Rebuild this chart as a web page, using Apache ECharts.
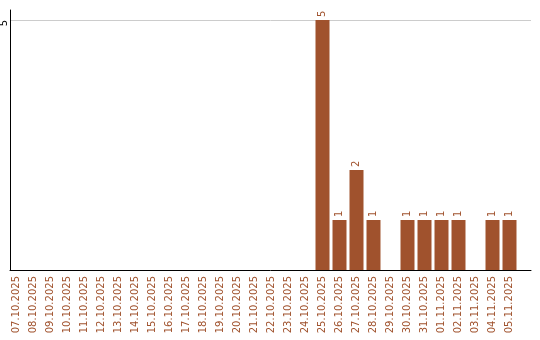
<!DOCTYPE html>
<html>
<head>
<meta charset="utf-8">
<script src="https://cdn.jsdelivr.net/npm/echarts@6/dist/echarts.min.js"></script>
<style>html,body{margin:0;padding:0;background:#fff}#c{width:540px;height:340px}</style>
</head>
<body>
<div id="c"></div>
<script>
var categories = ['07.10.2025','08.10.2025','09.10.2025','10.10.2025','11.10.2025','12.10.2025','13.10.2025','14.10.2025','15.10.2025','16.10.2025','17.10.2025','18.10.2025','19.10.2025','20.10.2025','21.10.2025','22.10.2025','23.10.2025','24.10.2025','25.10.2025','26.10.2025','27.10.2025','28.10.2025','29.10.2025','30.10.2025','31.10.2025','01.11.2025','02.11.2025','03.11.2025','04.11.2025','05.11.2025'];
var values = [0,0,0,0,0,0,0,0,0,0,0,0,0,0,0,0,0,0,5,1,2,1,0,1,1,1,1,0,1,1];
var yTicks = [5];

var FONT = 'DejaVu Sans';
var BROWN = '#a0522d';
var chart = echarts.init(document.getElementById('c'));
chart.setOption({
  animation: false,
  backgroundColor: '#fff',
  grid: [
    {left: 8, width: 510, top: 10, height: 260, containLabel: false, outerBoundsMode: 'none'},
    {left: 10, right: 9, top: 10, height: 260, containLabel: false, outerBoundsMode: 'none'}
  ],
  xAxis: [
    {
      type: 'category', gridIndex: 0, data: categories,
      axisLine: {show: false}, axisTick: {show: false},
      axisLabel: {interval: 0, rotate: 90, margin: 6, color: BROWN, fontSize: 10, fontFamily: FONT}
    },
    {
      type: 'value', gridIndex: 1, min: 0, max: 1,
      axisLine: {show: true, lineStyle: {color: '#000', width: 1}},
      axisTick: {show: false}, axisLabel: {show: false}, splitLine: {show: false}
    }
  ],
  yAxis: [
    {type: 'value', gridIndex: 0, min: 0, max: 5.2, show: false, splitLine: {show: false}},
    {
      type: 'value', gridIndex: 1, min: 0, max: 5.2, interval: 5,
      axisLine: {show: true, lineStyle: {color: '#000', width: 1}},
      axisTick: {show: false},
      axisLabel: {
        show: true, rotate: 90, margin: 5.5, align: 'right', verticalAlign: 'middle',
        color: '#000', fontSize: 10, fontFamily: FONT,
        showMinLabel: false, showMaxLabel: false,
        formatter: function (v) { return yTicks.indexOf(v) >= 0 ? String(v) : ''; }
      },
      splitLine: {show: true, showMinLine: false, showMaxLine: false, lineStyle: {color: '#cccccc', width: 1}}
    }
  ],
  series: [{
    type: 'bar', xAxisIndex: 0, yAxisIndex: 0,
    data: values, barWidth: 14,
    itemStyle: {color: BROWN},
    label: {
      show: true, position: 'top', rotate: 90, align: 'left', verticalAlign: 'middle', distance: 3,
      color: BROWN, fontSize: 10, fontFamily: FONT,
      formatter: function (p) { return p.value ? String(p.value) : ''; }
    }
  }]
});
</script>
</body>
</html>
